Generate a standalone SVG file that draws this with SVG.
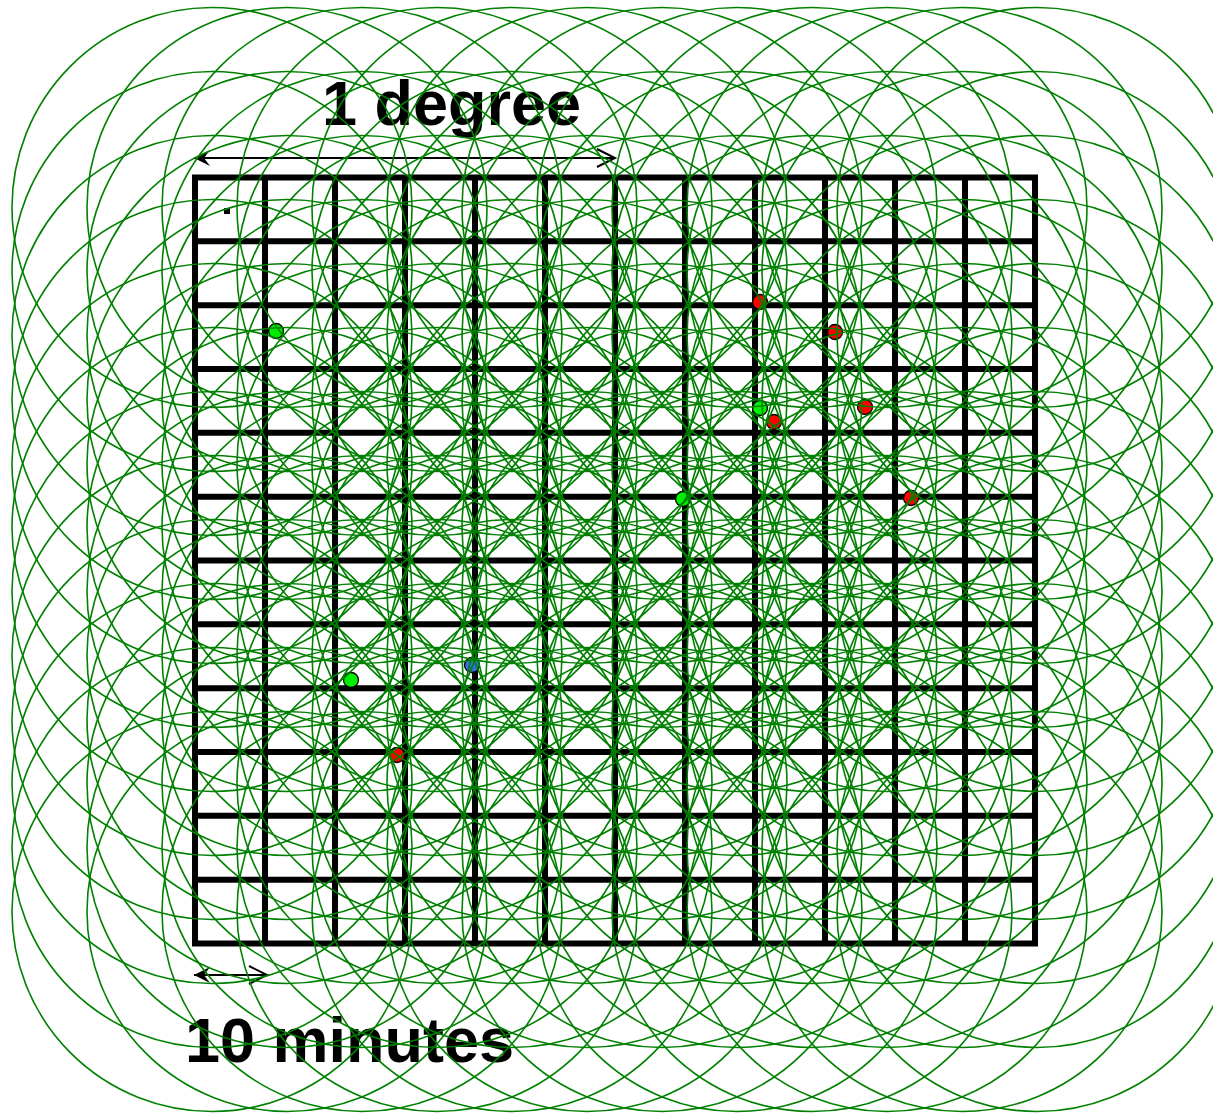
<svg xmlns="http://www.w3.org/2000/svg" xmlns:xlink="http://www.w3.org/1999/xlink" width="1213" height="1113" viewBox="0 0 1213 1113">
<style>
.gl{stroke:#000;stroke-width:6;fill:none}
.lbl{font-family:"Liberation Sans",Arial,sans-serif;font-weight:bold;font-size:63px;fill:#000}
.ring{fill:none;stroke:#008000;stroke-width:1.6}
.dot{stroke:#000;stroke-width:1.3}
.g{fill:#00ee00}.r{fill:#ff0000}.b{fill:#3a6ee8}
.arr{stroke:#000;stroke-width:2;fill:none}
</style>
<defs>
<marker id="stealth" markerUnits="userSpaceOnUse" markerWidth="20" markerHeight="20" refX="16" refY="8" orient="auto-start-reverse" viewBox="0 0 20 16">
<path d="M0,0 L16,8 L0,16 L6,8 Z" fill="#000"/>
</marker>
<marker id="open" markerUnits="userSpaceOnUse" markerWidth="24" markerHeight="24" refX="20" refY="10" orient="auto" viewBox="0 0 24 20">
<path d="M2,1 L20,10 L2,19" fill="none" stroke="#000" stroke-width="2"/>
</marker>
<g id="row">
<circle class="ring" cx="212" cy="0" r="200"/><circle class="ring" cx="287" cy="0" r="200"/><circle class="ring" cx="362" cy="0" r="200"/><circle class="ring" cx="437" cy="0" r="200"/><circle class="ring" cx="512" cy="0" r="200"/><circle class="ring" cx="587" cy="0" r="200"/><circle class="ring" cx="662" cy="0" r="200"/><circle class="ring" cx="737" cy="0" r="200"/><circle class="ring" cx="812" cy="0" r="200"/><circle class="ring" cx="887" cy="0" r="200"/><circle class="ring" cx="962" cy="0" r="200"/><circle class="ring" cx="1037" cy="0" r="200"/>
</g>
</defs>
<rect width="1213" height="1113" fill="#fff"/>
<g id="grid">
<rect class="gl" x="195" y="177.5" width="840" height="766"/>
<path class="gl" d="M265,177.5V943.5M335,177.5V943.5M405,177.5V943.5M475,177.5V943.5M545,177.5V943.5M615,177.5V943.5M685,177.5V943.5M755,177.5V943.5M825,177.5V943.5M895,177.5V943.5M965,177.5V943.5"/>
<path class="gl" d="M195,241.3H1035M195,305.2H1035M195,369H1035M195,432.8H1035M195,496.7H1035M195,560.5H1035M195,624.3H1035M195,688.2H1035M195,752H1035M195,815.8H1035M195,879.7H1035"/>
<rect x="224" y="208" width="6" height="6" fill="#000"/>
</g>
<g id="points">
<g id="p1"><circle class="dot g" cx="276" cy="331" r="7.5"/></g>
<g id="p2"><circle class="dot r" cx="760" cy="302" r="7.5"/></g>
<g id="p3"><circle class="dot r" cx="835" cy="332" r="7.5"/></g>
<g id="p4"><circle class="dot g" cx="760" cy="408" r="7.5"/></g>
<g id="p5"><circle class="dot r" cx="774" cy="422" r="7.5"/></g>
<g id="p6"><circle class="dot r" cx="865" cy="407" r="7.5"/></g>
<g id="p7"><circle class="dot g" cx="683" cy="499" r="7.5"/></g>
<g id="p8"><circle class="dot r" cx="911" cy="498" r="7.5"/></g>
<g id="p9"><circle class="dot b" cx="472" cy="665" r="7.5"/></g>
<g id="p10"><circle class="dot g" cx="351" cy="680" r="7.5"/></g>
<g id="p11"><circle class="dot r" cx="397" cy="755" r="7.5"/></g>
</g>
<g id="labels">
<text class="lbl" x="322" y="125">1 degree</text>
<text class="lbl" x="185" y="1062">10 minutes</text>
</g>
<g id="connectors">
<line class="arr" x1="194" y1="158" x2="615" y2="158" marker-start="url(#stealth)" marker-end="url(#open)"/>
<line class="arr" x1="194" y1="975" x2="267" y2="975" marker-start="url(#stealth)" marker-end="url(#open)"/>
</g>
<g id="rings">
<use xlink:href="#row" y="207.5"/><use xlink:href="#row" y="271.5"/><use xlink:href="#row" y="335.5"/><use xlink:href="#row" y="399.5"/><use xlink:href="#row" y="463.5"/><use xlink:href="#row" y="527.5"/><use xlink:href="#row" y="591.5"/><use xlink:href="#row" y="655.5"/><use xlink:href="#row" y="719.5"/><use xlink:href="#row" y="783.5"/><use xlink:href="#row" y="847.5"/><use xlink:href="#row" y="911.5"/>
</g>
</svg>
